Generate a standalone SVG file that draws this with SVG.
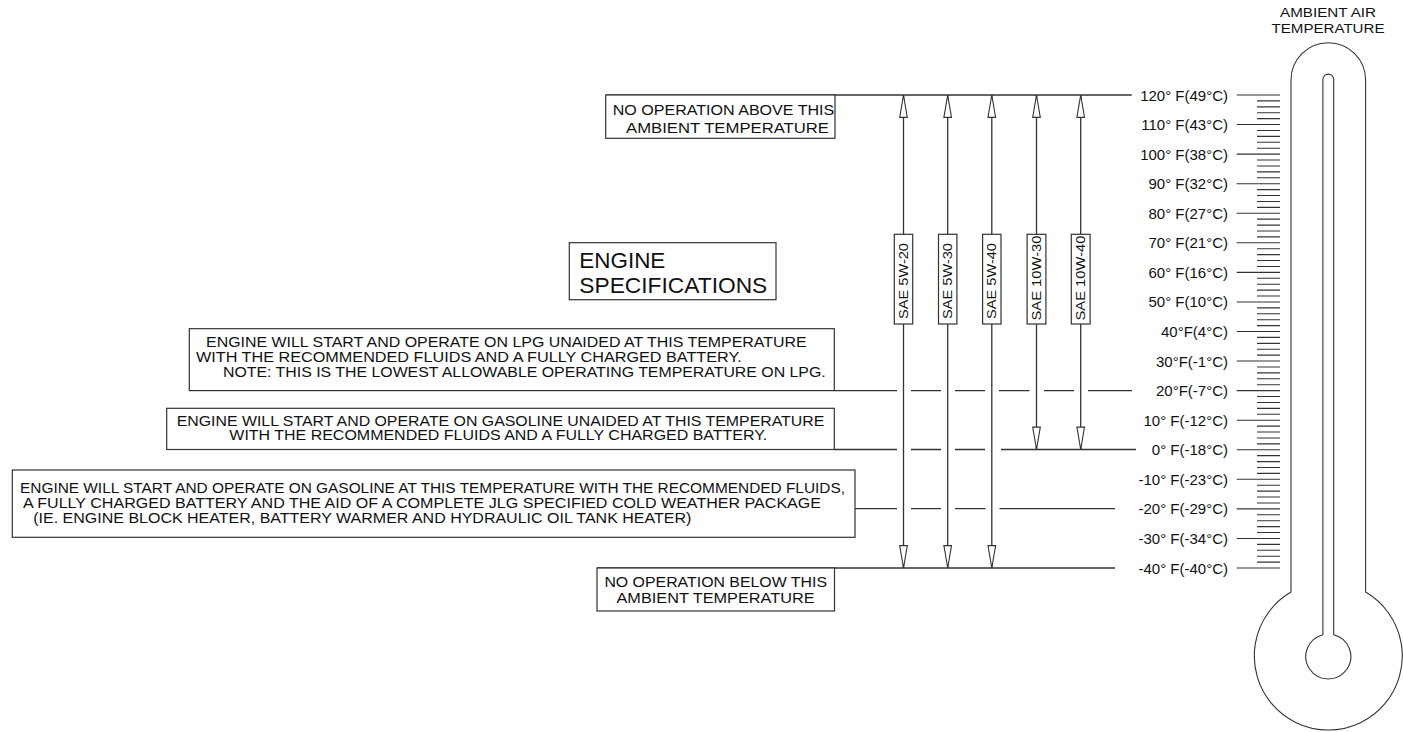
<svg xmlns="http://www.w3.org/2000/svg" width="1403" height="732" viewBox="0 0 1403 732">
<defs>
<style>
text{font-family:"Liberation Sans",Arial,Helvetica,sans-serif;fill:#111}
.t14{font-size:14px}
.t13{font-size:13px}
.t22{font-size:22px}
.t15{font-size:15px}
.t12{font-size:12px}
.box{fill:#fff;stroke:#333;stroke-width:1.2}
.ln{fill:none;stroke:#333;stroke-width:1.3}
.thin{fill:none;stroke:#333;stroke-width:1.1}
.arr{fill:none;stroke:#333;stroke-width:1.3;marker-start:url(#ah);marker-end:url(#ah)}
.arr1{fill:none;stroke:#333;stroke-width:1.3;marker-end:url(#ah)}
</style>
<marker id="ah" markerUnits="userSpaceOnUse" markerWidth="26" markerHeight="10" refX="23" refY="4.2" orient="auto-start-reverse" overflow="visible">
<path d="M0.6,0.4 L23,4.2 L0.6,8 Z" fill="#fff" stroke="#333" stroke-width="1.1" stroke-linejoin="miter"/>
</marker>
</defs>
<rect width="1403" height="732" fill="#fff"/>

<g id="connectors">
<!-- temperature reference lines -->
<path class="ln" d="M605.7,95 H1131.7"/>
<path class="ln" d="M834.3,390.6 H897 M911,390.6 H941 M955,390.6 H985 M999,390.6 H1029.5 M1044,390.6 H1074 M1088,390.6 H1132"/>
<path class="ln" d="M834.3,449.5 H897 M911,449.5 H941 M955,449.5 H985 M1001,449.5 H1136"/>
<path class="ln" d="M855,508.7 H897 M911,508.7 H941 M955,508.7 H985.5 M999.5,508.7 H1115"/>
<path class="ln" d="M597,568 H1115"/>
<!-- oil range arrows -->
<path class="arr" d="M903.5,95 V568"/>
<path class="arr" d="M947.7,95 V568"/>
<path class="arr" d="M991.8,95 V568"/>
<path class="arr1" d="M1036.5,95 V449.5" marker-start="url(#ah)"/>
<path class="arr1" d="M1080.7,95 V449.5" marker-start="url(#ah)"/>
</g>

<g id="box-no-operation-above">
<rect class="box" x="605.7" y="95" width="229.3" height="43.3"/>
<text class="t14" x="612.7" y="115" textLength="221.6" lengthAdjust="spacingAndGlyphs">NO OPERATION ABOVE THIS</text>
<text class="t14" x="626" y="132.7" textLength="203" lengthAdjust="spacingAndGlyphs">AMBIENT TEMPERATURE</text>
</g>

<g id="box-engine-specifications">
<rect class="box" x="569.3" y="242.7" width="206.7" height="57"/>
<text class="t22" x="579.3" y="268" textLength="86" lengthAdjust="spacingAndGlyphs">ENGINE</text>
<text class="t22" x="579.3" y="293.3" textLength="188" lengthAdjust="spacingAndGlyphs">SPECIFICATIONS</text>
</g>

<g id="box-lpg">
<rect class="box" x="189.3" y="328.7" width="645" height="61.9"/>
<text class="t14" x="206" y="347.3" textLength="600.7" lengthAdjust="spacingAndGlyphs">ENGINE WILL START AND OPERATE ON LPG UNAIDED AT THIS TEMPERATURE</text>
<text class="t14" x="196" y="362.3" textLength="545.7" lengthAdjust="spacingAndGlyphs">WITH THE RECOMMENDED FLUIDS AND A FULLY CHARGED BATTERY.</text>
<text class="t14" x="223" y="376.7" textLength="602.7" lengthAdjust="spacingAndGlyphs">NOTE: THIS IS THE LOWEST ALLOWABLE OPERATING TEMPERATURE ON LPG.</text>
</g>

<g id="box-gasoline">
<rect class="box" x="166.7" y="408.3" width="667.6" height="41.2"/>
<text class="t14" x="176.7" y="425.7" textLength="647.6" lengthAdjust="spacingAndGlyphs">ENGINE WILL START AND OPERATE ON GASOLINE UNAIDED AT THIS TEMPERATURE</text>
<text class="t14" x="229.3" y="440" textLength="538" lengthAdjust="spacingAndGlyphs">WITH THE RECOMMENDED FLUIDS AND A FULLY CHARGED BATTERY.</text>
</g>

<g id="box-cold-weather">
<rect class="box" x="12.3" y="470" width="842.7" height="67.3"/>
<text class="t14" x="20" y="493.3" textLength="825" lengthAdjust="spacingAndGlyphs">ENGINE WILL START AND OPERATE ON GASOLINE AT THIS TEMPERATURE WITH THE RECOMMENDED FLUIDS,</text>
<text class="t14" x="23" y="508.3" textLength="798" lengthAdjust="spacingAndGlyphs">A FULLY CHARGED BATTERY AND THE AID OF A COMPLETE JLG SPECIFIED COLD WEATHER PACKAGE</text>
<text class="t14" x="33.3" y="523.3" textLength="658" lengthAdjust="spacingAndGlyphs">(IE. ENGINE BLOCK HEATER, BATTERY WARMER AND HYDRAULIC OIL TANK HEATER)</text>
</g>

<g id="box-no-operation-below">
<rect class="box" x="597" y="568" width="237.5" height="43"/>
<text class="t14" x="604.4" y="586.7" textLength="222.6" lengthAdjust="spacingAndGlyphs">NO OPERATION BELOW THIS</text>
<text class="t14" x="616.5" y="602.7" textLength="198" lengthAdjust="spacingAndGlyphs">AMBIENT TEMPERATURE</text>
</g>

<g id="oil-sae-5w-20">
<rect class="box" x="894.3" y="234.3" width="18.4" height="89.7"/>
<text class="t13" transform="translate(908,281) rotate(-90)" text-anchor="middle" textLength="76" lengthAdjust="spacingAndGlyphs">SAE 5W-20</text>
</g>
<g id="oil-sae-5w-30">
<rect class="box" x="938.5" y="234.3" width="18.4" height="89.7"/>
<text class="t13" transform="translate(952.2,281) rotate(-90)" text-anchor="middle" textLength="76" lengthAdjust="spacingAndGlyphs">SAE 5W-30</text>
</g>
<g id="oil-sae-5w-40">
<rect class="box" x="982.6" y="234.3" width="18.4" height="89.7"/>
<text class="t13" transform="translate(996.3,281) rotate(-90)" text-anchor="middle" textLength="76" lengthAdjust="spacingAndGlyphs">SAE 5W-40</text>
</g>
<g id="oil-sae-10w-30">
<rect class="box" x="1027.1" y="234.3" width="18.8" height="89.7"/>
<text class="t13" transform="translate(1041,278) rotate(-90)" text-anchor="middle" textLength="85" lengthAdjust="spacingAndGlyphs">SAE 10W-30</text>
</g>
<g id="oil-sae-10w-40">
<rect class="box" x="1071.3" y="234.3" width="18.8" height="89.7"/>
<text class="t13" transform="translate(1085.2,278) rotate(-90)" text-anchor="middle" textLength="85" lengthAdjust="spacingAndGlyphs">SAE 10W-40</text>
</g>

<g id="thermometer">
<text class="t12" x="1328" y="17" text-anchor="middle" textLength="96" lengthAdjust="spacingAndGlyphs">AMBIENT AIR</text>
<text class="t12" x="1328" y="33.3" text-anchor="middle" textLength="113" lengthAdjust="spacingAndGlyphs">TEMPERATURE</text>
<path class="thin" d="M1291,592.1 V80 A37.3,37.3 0 0 1 1365.6,80 V592.1 A74,74 0 1 1 1291,592.1 Z"/>
<path class="thin" d="M1322.9,634.66 V79.5 A5.4,5.4 0 0 1 1333.7,79.5 V634.66 A22.5,22.5 0 1 1 1322.9,634.66 Z"/>
<path class="thin" d="M1257,95 H1280 M1257,100.91 H1280 M1257,106.83 H1280 M1257,112.74 H1280 M1257,118.65 H1280 M1257,124.56 H1280 M1257,130.48 H1280 M1257,136.39 H1280 M1257,142.3 H1280 M1257,148.21 H1280 M1257,154.13 H1280 M1257,160.04 H1280 M1257,165.95 H1280 M1257,171.86 H1280 M1257,177.78 H1280 M1257,183.69 H1280 M1257,189.6 H1280 M1257,195.51 H1280 M1257,201.43 H1280 M1257,207.34 H1280 M1257,213.25 H1280 M1257,219.16 H1280 M1257,225.08 H1280 M1257,230.99 H1280 M1257,236.9 H1280 M1257,242.81 H1280 M1257,248.73 H1280 M1257,254.64 H1280 M1257,260.55 H1280 M1257,266.46 H1280 M1257,272.38 H1280 M1257,278.29 H1280 M1257,284.2 H1280 M1257,290.11 H1280 M1257,296.03 H1280 M1257,301.94 H1280 M1257,307.85 H1280 M1257,313.76 H1280 M1257,319.68 H1280 M1257,325.59 H1280 M1257,331.5 H1280 M1257,337.41 H1280 M1257,343.33 H1280 M1257,349.24 H1280 M1257,355.15 H1280 M1257,361.06 H1280 M1257,366.98 H1280 M1257,372.89 H1280 M1257,378.8 H1280 M1257,384.71 H1280 M1257,390.63 H1280 M1257,396.54 H1280 M1257,402.45 H1280 M1257,408.36 H1280 M1257,414.28 H1280 M1257,420.19 H1280 M1257,426.1 H1280 M1257,432.01 H1280 M1257,437.93 H1280 M1257,443.84 H1280 M1257,449.75 H1280 M1257,455.66 H1280 M1257,461.58 H1280 M1257,467.49 H1280 M1257,473.4 H1280 M1257,479.31 H1280 M1257,485.23 H1280 M1257,491.14 H1280 M1257,497.05 H1280 M1257,502.96 H1280 M1257,508.88 H1280 M1257,514.79 H1280 M1257,520.7 H1280 M1257,526.61 H1280 M1257,532.53 H1280 M1257,538.44 H1280 M1257,544.35 H1280 M1257,550.26 H1280 M1257,556.18 H1280 M1257,562.09 H1280 M1257,568 H1280"/>
<path class="thin" d="M1236.7,95 H1257 M1236.7,124.56 H1257 M1236.7,154.13 H1257 M1236.7,183.69 H1257 M1236.7,213.25 H1257 M1236.7,242.81 H1257 M1236.7,272.38 H1257 M1236.7,301.94 H1257 M1236.7,331.5 H1257 M1236.7,361.06 H1257 M1236.7,390.63 H1257 M1236.7,420.19 H1257 M1236.7,449.75 H1257 M1236.7,479.31 H1257 M1236.7,508.88 H1257 M1236.7,538.44 H1257 M1236.7,568 H1257"/>
<g class="t15" text-anchor="end">
<text x="1228" y="100.5">120° F(49°C)</text>
<text x="1228" y="130.06">110° F(43°C)</text>
<text x="1228" y="159.63">100° F(38°C)</text>
<text x="1228" y="189.19">90° F(32°C)</text>
<text x="1228" y="218.75">80° F(27°C)</text>
<text x="1228" y="248.31">70° F(21°C)</text>
<text x="1228" y="277.88">60° F(16°C)</text>
<text x="1228" y="307.44">50° F(10°C)</text>
<text x="1228" y="337">40°F(4°C)</text>
<text x="1228" y="366.56">30°F(-1°C)</text>
<text x="1228" y="396.13">20°F(-7°C)</text>
<text x="1228" y="425.69">10° F(-12°C)</text>
<text x="1228" y="455.25">0° F(-18°C)</text>
<text x="1228" y="484.81">-10° F(-23°C)</text>
<text x="1228" y="514.38">-20° F(-29°C)</text>
<text x="1228" y="543.94">-30° F(-34°C)</text>
<text x="1228" y="573.5">-40° F(-40°C)</text>
</g>
</g>
</svg>
